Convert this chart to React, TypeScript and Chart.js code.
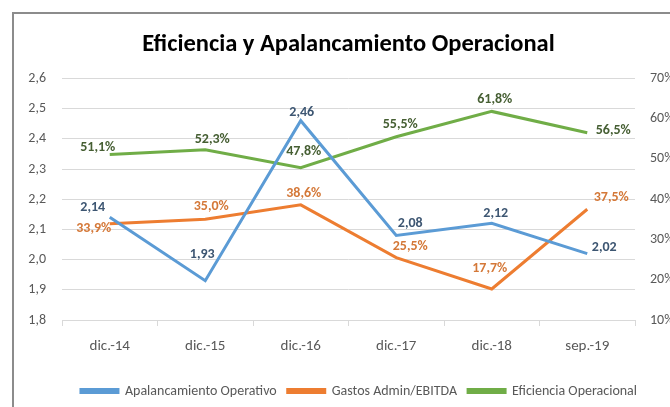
import React, { useEffect, useRef } from "react";
import { Chart, registerables } from "chart.js";

Chart.register(...registerables);

const categories = ["dic.-14", "dic.-15", "dic.-16", "dic.-17", "dic.-18", "sep.-19"];
const apalancamiento = [2.14, 1.93, 2.46, 2.08, 2.12, 2.02];
const gastosAdmin = [33.9, 35.0, 38.6, 25.5, 17.7, 37.5];
const eficiencia = [51.1, 52.3, 47.8, 55.5, 61.8, 56.5];
const leftRange = [1.8, 2.6];
const rightRange = [10, 70];

// data-label offsets from each point, [dx, dy] in px (styling only)
const apalOffsets = [[-17, -10], [-3, -26], [1, -8], [14, -12], [4, -10], [17, -6]];
const gastosOffsets = [[-16, 5], [6, -13], [3, -11], [14, -11], [-2, -20], [24, -12]];
const efOffsets = [[-12, -7], [7, -10], [3, -16], [4, -12], [3, -12], [26, -2]];

const FONT = "Carlito, Calibri, 'Liberation Sans Narrow', 'DejaVu Sans Condensed', sans-serif";

const labelPlugin = {
  id: "pointLabels",
  afterDatasetsDraw(chart: any) {
    const ctx = chart.ctx;
    chart.data.datasets.forEach((ds: any, i: number) => {
      const meta = chart.getDatasetMeta(i);
      ctx.save();
      ctx.font = `bold 14px ${FONT}`;
      ctx.fillStyle = ds.labelColor;
      ctx.textAlign = "center";
      ctx.textBaseline = "middle";
      meta.data.forEach((pt: any, j: number) => {
        const v = ds.data[j];
        const txt = ds.isPct
          ? v.toFixed(1).replace(".", ",") + "%"
          : v.toFixed(2).replace(".", ",");
        const [dx, dy] = ds.offsets[j];
        ctx.fillText(txt, pt.x + dx, pt.y + dy);
      });
      ctx.restore();
    });
  },
};

export default function App() {
  const ref = useRef<HTMLCanvasElement>(null);
  useEffect(() => {
    document.body.style.margin = "0";
    const chart = new Chart(ref.current as HTMLCanvasElement, {
      type: "line",
      data: {
        labels: categories,
        datasets: [
          {
            label: "Apalancamiento Operativo",
            data: apalancamiento,
            borderColor: "#5B9BD5",
            backgroundColor: "#5B9BD5",
            borderWidth: 3,
            pointRadius: 0,
            yAxisID: "y",
            tension: 0,
            labelColor: "#3D5672",
            offsets: apalOffsets,
            isPct: false,
          } as any,
          {
            label: "Gastos Admin/EBITDA",
            data: gastosAdmin,
            borderColor: "#ED7D31",
            backgroundColor: "#ED7D31",
            borderWidth: 3,
            pointRadius: 0,
            yAxisID: "y1",
            tension: 0,
            labelColor: "#D47838",
            offsets: gastosOffsets,
            isPct: true,
          } as any,
          {
            label: "Eficiencia Operacional",
            data: eficiencia,
            borderColor: "#70AD47",
            backgroundColor: "#70AD47",
            borderWidth: 3,
            pointRadius: 0,
            yAxisID: "y1",
            tension: 0,
            labelColor: "#465F33",
            offsets: efOffsets,
            isPct: true,
          } as any,
        ],
      },
      options: {
        animation: false,
        responsive: false,
        layout: { padding: { left: 0, right: 0, top: 4, bottom: 0 } },
        plugins: {
          title: {
            display: true,
            fullSize: false,
            text: "Eficiencia y Apalancamiento Operacional",
            color: "#000",
            font: { family: FONT, size: 24.5, weight: "bold" },
            padding: { top: 12, bottom: 19 },
          },
          legend: {
            position: "bottom",
            labels: {
              boxWidth: 37,
              boxHeight: 3,
              color: "#595959",
              font: { family: FONT, size: 14 },
              padding: 11,
            },
          },
          tooltip: { enabled: false },
        },
        scales: {
          x: {
            offset: true,
            grid: {
              offset: true,
              drawOnChartArea: false,
              tickLength: 6,
              color: "#D9D9D9",
            },
            border: { color: "#D9D9D9" },
            ticks: { color: "#595959", font: { family: FONT, size: 15 }, padding: 11 },
            afterFit: (s: any) => {
              s.height = 53;
            },
          },
          y: {
            position: "left",
            min: leftRange[0],
            max: leftRange[1],
            ticks: {
              stepSize: 0.1,
              color: "#595959",
              font: { family: FONT, size: 14 },
              padding: 16,
              callback: (v: any) => Number(v).toFixed(1).replace(".", ","),
            },
            grid: { color: "#D9D9D9", drawTicks: false },
            border: { display: false },
            afterFit: (s: any) => {
              s.width = 48;
            },
          },
          y1: {
            position: "right",
            min: rightRange[0],
            max: rightRange[1],
            ticks: {
              stepSize: 10,
              color: "#595959",
              font: { family: FONT, size: 14 },
              padding: 15,
              callback: (v: any) => v + "%",
            },
            grid: { drawOnChartArea: false, drawTicks: false },
            border: { display: false },
            afterFit: (s: any) => {
              s.width = 69;
            },
          },
        },
      },
      plugins: [labelPlugin],
    });
    return () => chart.destroy();
  }, []);

  return (
    <div style={{ position: "relative", width: 670, height: 407, overflow: "hidden", background: "#fff" }}>
      <div
        style={{
          position: "absolute",
          left: 12,
          top: 12,
          width: 700,
          height: 420,
          border: "2px solid #8C8C8C",
          boxSizing: "border-box",
        }}
      >
        <canvas ref={ref} width={690} height={394} style={{ display: "block" }} />
      </div>
    </div>
  );
}
